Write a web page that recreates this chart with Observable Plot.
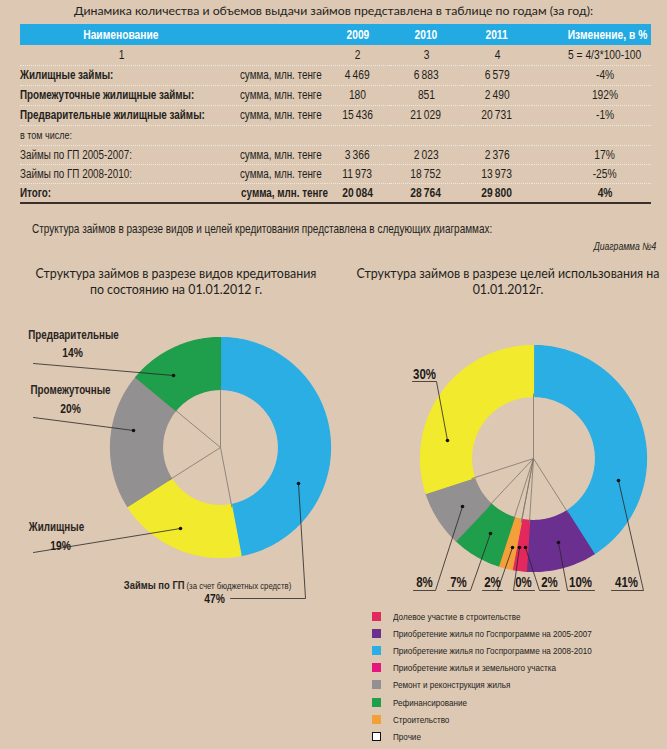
<!DOCTYPE html>
<html><head><meta charset="utf-8">
<script src="https://cdn.jsdelivr.net/npm/d3@7"></script>
<script src="https://cdn.jsdelivr.net/npm/@observablehq/plot@0.6"></script>
<style>
  html, body { margin: 0; padding: 0; }
  body { width: 667px; height: 749px; background: #dcc8b3; position: relative; overflow: hidden; color: #241f1c; }
  .narrow { font-family: "Liberation Sans", Arial, sans-serif; }
  .n { display: inline-block; transform: scaleX(0.82); }
  .abs { position: absolute; white-space: nowrap; }
  #title { top: 2px; left: 0; width: 667px; text-align: center; font: 12.3px Lato, sans-serif; line-height: 18px; }
  table { position: absolute; left: 20px; top: 24px; width: 631px; border-collapse: collapse; table-layout: fixed; }
  td { padding: 0; white-space: nowrap; font-size: 12px; line-height: 14px; border-bottom: 1.5px dotted #ece9e0; overflow: visible; }
  tr.head td { background: #23aae2; color: #fff; font-weight: bold; font-size: 12.5px; height: 21px; border-bottom: none; }
  tr.total td { font-weight: bold; border-bottom: 2.5px solid #3a302b; }
  .c { text-align: center; }
  .r { text-align: right; padding-right: 5px; }
  .chg { padding-left: 27px; text-align: center; }
  .num { font-size: 12.5px; }
  #intro { left: 32px; top: 222px; font-size: 12.2px; }
  #diag { right: 11px; top: 240px; font-size: 10.5px; font-style: italic; }
  .ctitle { top: 266px; text-align: center; font: 12.4px Lato, sans-serif; line-height: 16px; }
  #legend { left: 372px; top: 608px; font-size: 9.9px; }
  .lrow { height: 17.1px; display: flex; align-items: center; }
  .sw { width: 9px; height: 9px; margin-right: 12px; box-sizing: border-box; flex: none; }
  #chart { position: absolute; left: 0; top: 300px; }
</style>
</head><body>
<script>
// ---------- data ----------
const pageTitle = "Динамика количества и объемов выдачи займов представлена в таблице по годам (за год):";
const headerLabels = ["Наименование", "", "2009", "2010", "2011", "Изменение, в %"];
const columnNumbers = ["1", "", "2", "3", "4", "5 = 4/3*100-100"];
const rowNames = ["Жилищные займы:", "Промежуточные жилищные займы:", "Предварительные жилищные займы:", "в том числе:", "Займы по ГП 2005-2007:", "Займы по ГП 2008-2010:", "Итого:"];
const rowUnits = ["сумма, млн. тенге", "сумма, млн. тенге", "сумма, млн. тенге", "", "сумма, млн. тенге", "сумма, млн. тенге", "сумма, млн. тенге"];
const values2009 = [4469, 180, 15436, null, 3366, 11973, 20084];
const values2010 = [6883, 851, 21029, null, 2023, 18752, 28764];
const values2011 = [6579, 2490, 20731, null, 2376, 13973, 29800];
const changePct = [-4, 192, -1, null, 17, -25, 4];
const boldNameRows = [true, true, true, false, false, false, true];

const introText = "Структура займов в разрезе видов и целей кредитования представлена в следующих диаграммах:";
const diagramLabel = "Диаграмма №4";
const leftTitle = ["Структура займов в разрезе видов кредитования", "по состоянию на 01.01.2012 г."];
const rightTitle = ["Структура займов в разрезе целей использования на", "01.01.2012г."];

// donut 1: by loan type (clockwise from top)
const typeNames = ["Займы по ГП", "Жилищные", "Промежуточные", "Предварительные"];
const typeShares = [47, 19, 20, 14];
const gpNote = "(за счет бюджетных средств)";
// donut 2: by purpose (clockwise from top)
const purposeNames = ["Приобретение жилья по Госпрограмме на 2008-2010", "Приобретение жилья по Госпрограмме на 2005-2007", "Долевое участие в строительстве", "Приобретение жилья и земельного участка", "Строительство", "Рефинансирование", "Ремонт и  реконструкция жилья", "Прочие"];
const purposeShares = [41, 10, 2, 0, 2, 7, 8, 30];
const legendOrder = ["Долевое участие в строительстве", "Приобретение жилья по Госпрограмме на 2005-2007", "Приобретение жилья по Госпрограмме на 2008-2010", "Приобретение жилья и земельного участка", "Ремонт и  реконструкция жилья", "Рефинансирование", "Строительство", "Прочие"];

// ---------- styles ----------
const typeColors = ["#2aaee4", "#f2ea2c", "#929090", "#1f9e4b"];
const purposeColors = ["#2aaee4", "#6b2f90", "#e2285d", "#e5177e", "#f3a03a", "#1f9e4b", "#929090", "#f2ea2c"];
const legendSwatch = {"Прочие": "#ffffff"};
const FONT = '"Liberation Sans", Arial, sans-serif';

// ---------- layout ----------
const fmt = v => v == null ? "" : d3.format(",")(v).replace(/,/g, "\u2009");
const body = d3.select("body");
const nspan = (sel, text, origin) => sel.append("span").attr("class", "n").style("transform-origin", origin).text(text);

body.append("div").attr("id", "title").attr("class", "abs").text(pageTitle);

const table = body.append("table").attr("class", "narrow");
const cg = table.append("colgroup");
[202, 103, 65, 72, 70, 119].forEach(w => cg.append("col").style("width", w + "px"));
const hr = table.append("tr").attr("class", "head");
headerLabels.forEach((h, i) => nspan(hr.append("td").attr("class", i === 5 ? "chg" : "c"), h, "center"));
const nr = table.append("tr").style("height", "20px");
columnNumbers.forEach((h, i) => nspan(nr.append("td").attr("class", (i === 5 ? "chg" : "c") + " num"), h, "center"));
rowNames.forEach((name, i) => {
  const tr = table.append("tr").attr("class", i === rowNames.length - 1 ? "total" : null)
    .style("height", (i >= 4 ? 19.3 : 20) + "px");
  const tdn = tr.append("td").style("font-weight", boldNameRows[i] ? "bold" : null).style("font-size", i === 3 ? "11px" : null);
  nspan(tdn, name, "left");
  nspan(tr.append("td").attr("class", "r"), rowUnits[i], "right");
  nspan(tr.append("td").attr("class", "c num"), fmt(values2009[i]), "center");
  nspan(tr.append("td").attr("class", "c num"), fmt(values2010[i]), "center");
  nspan(tr.append("td").attr("class", "c num"), fmt(values2011[i]), "center");
  nspan(tr.append("td").attr("class", "chg num"), changePct[i] == null ? "" : changePct[i] + "%", "center");
});

nspan(body.append("div").attr("id", "intro").attr("class", "abs narrow"), introText, "left");
nspan(body.append("div").attr("id", "diag").attr("class", "abs narrow"), diagramLabel, "right");
body.append("div").attr("class", "abs ctitle").style("left", "26px").style("width", "300px").html(leftTitle.join("<br>"));
body.append("div").attr("class", "abs ctitle").style("left", "351px").style("width", "314px").html(rightTitle.join("<br>"));

// ---------- donuts ----------
const W = 667, TOP = 300, H = 310;
const donutL = {cx: 220, cy: 447, r0: 58, r1: 110};
const donutR = {cx: 533, cy: 458, r0: 62, r1: 113};

function arcPoints(names, shares, g, key) {
  const pie = d3.pie().sort(null).value(d => d)(shares);
  const pts = [];
  pie.forEach((p, i) => {
    const span = p.endAngle - p.startAngle;
    if (span <= 0) return;
    const n = Math.max(2, Math.ceil(span / 0.02));
    for (let k = 0; k <= n; k++) {
      const a = p.startAngle + span * k / n;
      pts.push({key: key + i, name: names[i], x: g.cx + g.r1 * Math.sin(a), y: g.cy - g.r1 * Math.cos(a)});
    }
    for (let k = n; k >= 0; k--) {
      const a = p.startAngle + span * k / n;
      pts.push({key: key + i, name: names[i], x: g.cx + g.r0 * Math.sin(a), y: g.cy - g.r0 * Math.cos(a)});
    }
  });
  return pts;
}
function spokes(shares, g) {
  const pie = d3.pie().sort(null).value(d => d)(shares);
  return pie.map(p => ({x1: g.cx, y1: g.cy, x2: g.cx + (g.r0 + 3) * Math.sin(p.startAngle), y2: g.cy - (g.r0 + 3) * Math.cos(p.startAngle)}));
}

// annotation placement (page pixel coordinates)
const leftLabels = [
  {name: typeNames[3], pct: typeShares[3], nx: 73, ny: 335, px: 72, py: 352, path: [[33, 363], [173, 375]]},
  {name: typeNames[2], pct: typeShares[2], nx: 70, ny: 390, px: 70, py: 408, path: [[33, 417], [133, 430]]},
  {name: typeNames[1], pct: typeShares[1], nx: 56, ny: 527, px: 60, py: 545, path: [[33, 552], [180, 528]]},
  {name: null, pct: typeShares[0], px: 214, py: 598, path: [[230, 598], [305, 598], [298, 483]]}
];
const rightLabels = [
  {pct: purposeShares[7], px: 424, py: 374, path: [[412, 381], [436, 381], [447, 440]]},
  {pct: purposeShares[6], px: 424, py: 582, path: [[413, 590], [435, 590], [462, 506]]},
  {pct: purposeShares[5], px: 458, py: 582, path: [[447, 590], [470, 590], [490, 533]]},
  {pct: purposeShares[4], px: 492, py: 582, path: [[482, 590], [502, 590], [497, 590], [512, 547]]},
  {pct: purposeShares[3], px: 523, py: 582, path: [[534, 590], [513, 590], [519, 547]]},
  {pct: purposeShares[2], px: 549, py: 582, path: [[559, 590], [539, 590], [525, 547]]},
  {pct: purposeShares[1], px: 580, py: 582, path: [[594, 590], [567, 590], [558, 542]]},
  {pct: purposeShares[0], px: 626, py: 582, path: [[611, 590], [643, 590], [618, 480]]}
];
const allLabels = [...leftLabels, ...rightLabels];
const leaderPts = allLabels.flatMap((l, i) => l.path.map(([x, y]) => ({k: i, x, y})));
const dots = allLabels.map(l => ({x: l.path[l.path.length - 1][0], y: l.path[l.path.length - 1][1]}));

const chart = Plot.plot({
  width: W, height: H, margin: 0,
  x: {domain: [0, W], range: [0, W], axis: null},
  y: {domain: [TOP, TOP + H], range: [0, H], axis: null},
  color: {domain: [...typeNames, ...purposeNames], range: [...typeColors, ...purposeColors]},
  style: {background: "transparent", overflow: "visible"},
  marks: [
    Plot.line(arcPoints(typeNames, typeShares, donutL, "L"), {x: "x", y: "y", z: "key", fill: "name", stroke: "name", strokeWidth: 1.2, curve: "linear-closed"}),
    Plot.line(arcPoints(purposeNames, purposeShares, donutR, "R"), {x: "x", y: "y", z: "key", fill: "name", stroke: "name", strokeWidth: 1.2, curve: "linear-closed"}),
    Plot.link([...spokes(typeShares, donutL), ...spokes(purposeShares, donutR)], {x1: "x1", y1: "y1", x2: "x2", y2: "y2", stroke: "#7f756d", strokeWidth: 0.8}),
    Plot.line(leaderPts, {x: "x", y: "y", z: "k", stroke: "#2b2522", strokeWidth: 0.8}),
    Plot.dot(dots, {x: "x", y: "y", r: 1.8, fill: "#111", stroke: "none"}),
    Plot.text(leftLabels.filter(d => d.name), {x: "nx", y: "ny", text: "name", fontFamily: FONT, fontWeight: "bold", fontSize: 12, fill: "#2a2522"}),
    Plot.text(leftLabels, {x: "px", y: "py", text: d => d.pct + "%", fontFamily: FONT, fontWeight: "bold", fontSize: 12.5, fill: "#1e1a18"}),
    Plot.text(rightLabels, {x: "px", y: "py", text: d => d.pct + "%", fontFamily: FONT, fontWeight: "bold", fontSize: 14, fill: "#1e1a18"}),
    Plot.text([{x: 184, y: 585, t: typeNames[0]}], {x: "x", y: "y", text: "t", textAnchor: "end", fontFamily: FONT, fontWeight: "bold", fontSize: 11.5, fill: "#2a2522"}),
    Plot.text([{x: 186, y: 585, t: gpNote}], {x: "x", y: "y", text: "t", textAnchor: "start", fontFamily: FONT, fontSize: 9.5, fill: "#2a2522"})
  ]
});
// condensed look for annotation text
d3.select(chart).selectAll('g[aria-label="text"] text').attr("transform", function () {
  return (this.getAttribute("transform") || "") + " scale(0.82,1)";
});
chart.setAttribute("id", "chart");
document.body.appendChild(chart);

// legend
const leg = body.append("div").attr("id", "legend").attr("class", "abs narrow");
legendOrder.forEach(name => {
  const i = purposeNames.indexOf(name);
  const row = leg.append("div").attr("class", "lrow");
  const sw = row.append("div").attr("class", "sw").style("background", legendSwatch[name] || purposeColors[i]);
  if (legendSwatch[name]) sw.style("border", "1.5px solid #111");
  nspan(row, name, "left");
});
</script>
</body></html>
